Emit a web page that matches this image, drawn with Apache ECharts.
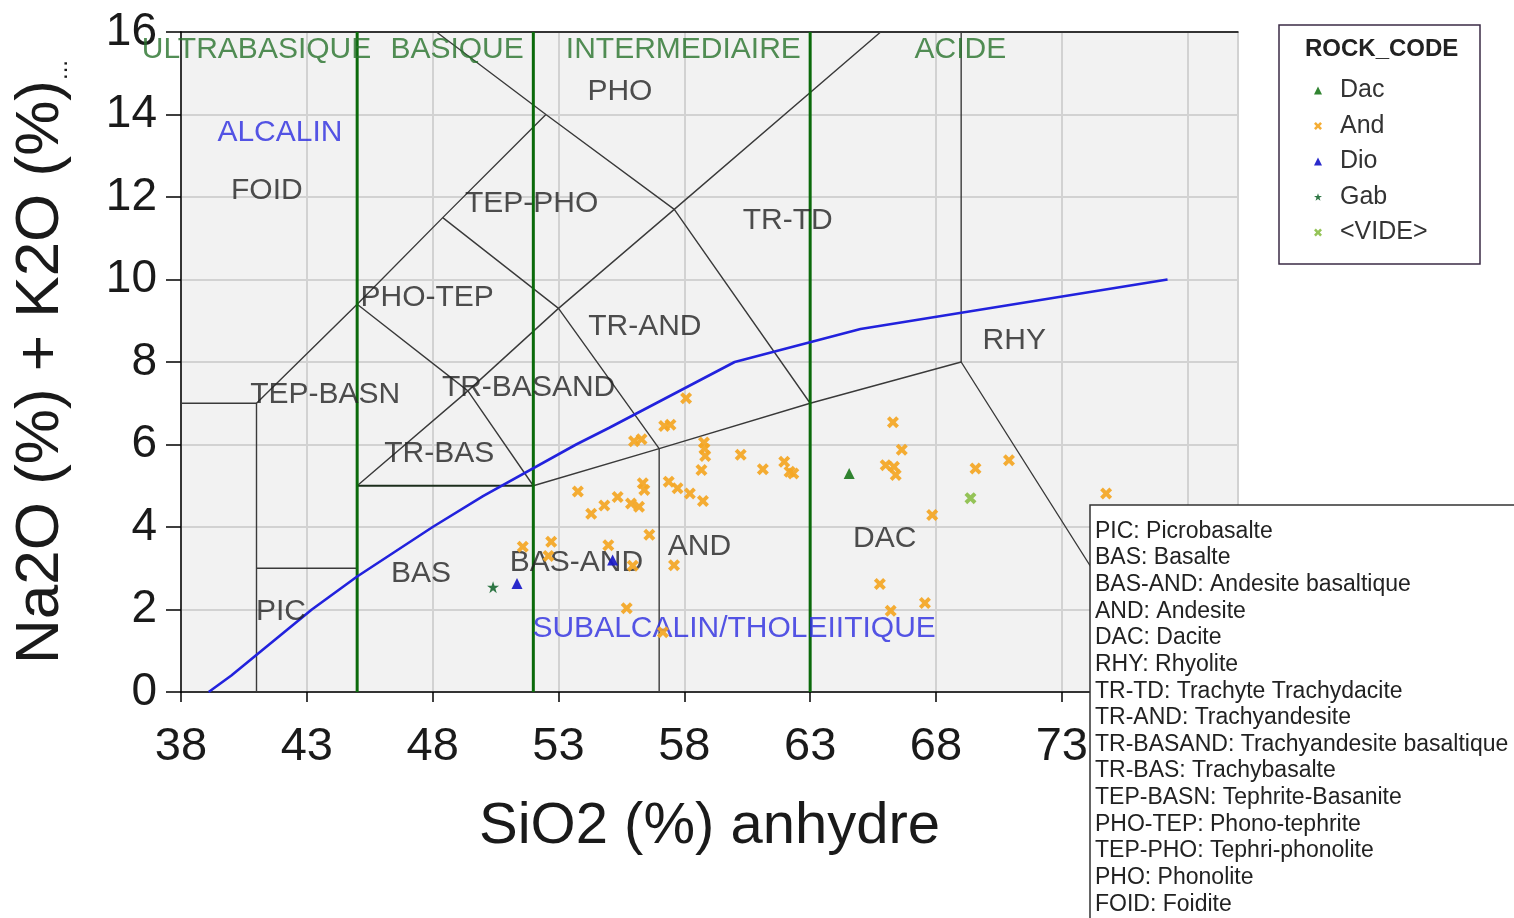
<!DOCTYPE html>
<html><head><meta charset="utf-8">
<script src="https://cdn.jsdelivr.net/npm/echarts@6/dist/echarts.min.js"></script>
<style>html,body{margin:0;padding:0;background:#fff}#c{width:1514px;height:918px}</style>
</head><body><div id="c"></div>
<script>
const FONT = '"Liberation Sans", Arial, sans-serif';

// ---- data ----
const seriesNames = ['Dac', 'And', 'Dio', 'Gab', '<VIDE>'];
const dacData = [[64.55, 5.3]];
const andData = [
  [58.07, 7.12], [57.2, 6.45], [57.45, 6.48], [56.0, 6.08], [56.3, 6.13],
  [58.78, 6.05], [58.8, 5.9], [58.83, 5.72], [58.68, 5.38], [60.24, 5.75],
  [61.12, 5.4], [61.97, 5.58], [62.18, 5.34], [62.33, 5.3], [66.29, 6.54],
  [66.64, 5.87], [66.0, 5.5], [66.33, 5.46], [66.4, 5.26], [69.57, 5.42],
  [70.9, 5.62], [74.76, 4.81], [67.85, 4.29], [65.77, 2.62], [67.56, 2.16],
  [66.2, 1.97], [53.77, 4.86], [54.3, 4.32], [54.82, 4.52], [55.35, 4.73],
  [55.88, 4.57], [56.2, 4.49], [56.35, 5.06], [56.41, 4.9], [57.38, 5.1],
  [57.73, 4.94], [58.22, 4.81], [58.74, 4.63], [56.61, 3.81], [54.98, 3.56],
  [55.95, 3.06], [57.59, 3.07], [55.71, 2.03], [57.15, 1.45], [52.71, 3.64],
  [51.58, 3.52], [52.6, 3.3]
];
const dioData = [[51.35, 2.63], [55.15, 3.2]];
const gabData = [[50.4, 2.54]];
const videData = [[69.37, 4.7]];

// TAS diagram boundaries (SiO2, Na2O+K2O)
const boundaryLines = [
  [[38, 7], [41, 7], [41, 0]],
  [[41, 3], [45, 3]],
  [[41, 7], [45, 9.4], [48.4, 11.5], [52.5, 14]],
  [[48.15, 16], [52.5, 14], [57.6, 11.7], [63, 7]],
  [[45, 9.4], [49.4, 7.3], [52, 5]],
  [[48.4, 11.5], [53, 9.3], [57, 5.9]],
  [[45, 5], [49.4, 7.3], [53, 9.3], [57.6, 11.7], [65.8, 16]],
  [[52, 5], [57, 5.9], [63, 7], [69, 8], [77.3, 0]],
  [[57, 0], [57, 5.9]],
  [[69, 8], [69, 16]]
];
const basaltTop = [[45, 5], [52, 5]];
const silicaLimits = [45, 52, 63];
const alkalineLine = [[39.1, 0], [40, 0.4], [43.2, 2], [45, 2.8], [48, 4], [50, 4.75],
  [53.7, 6], [55, 6.4], [60, 8], [65, 8.8], [77.2, 10]];

const groupLabels = [['ULTRABASIQUE', 41.0, 15.56], ['BASIQUE', 48.97, 15.56],
  ['INTERMEDIAIRE', 57.96, 15.56], ['ACIDE', 68.97, 15.56]];
const regionLabels = [
  ['PHO', 55.44, 14.54], ['FOID', 41.41, 12.14], ['TEP-PHO', 51.93, 11.83],
  ['TR-TD', 62.11, 11.42], ['PHO-TEP', 47.78, 9.55], ['TR-AND', 56.43, 8.85],
  ['RHY', 71.11, 8.51], ['TEP-BASN', 43.73, 7.2], ['TR-BASAND', 51.81, 7.37],
  ['TR-BAS', 48.26, 5.77], ['AND', 58.6, 3.51], ['DAC', 65.96, 3.71],
  ['BAS-AND', 53.71, 3.13], ['BAS', 47.54, 2.86], ['PIC', 41.97, 1.94]
];
const domainLabels = [['ALCALIN', 41.93, 13.57], ['SUBALCALIN/THOLEIITIQUE', 59.98, 1.53]];

const abbreviations = [
  'PIC: Picrobasalte', 'BAS: Basalte', 'BAS-AND: Andesite basaltique', 'AND: Andesite',
  'DAC: Dacite', 'RHY: Rhyolite', 'TR-TD: Trachyte Trachydacite', 'TR-AND: Trachyandesite',
  'TR-BASAND: Trachyandesite basaltique', 'TR-BAS: Trachybasalte',
  'TEP-BASN: Tephrite-Basanite', 'PHO-TEP: Phono-tephrite', 'TEP-PHO: Tephri-phonolite',
  'PHO: Phonolite', 'FOID: Foidite'
];

// ---- styling ----
const X_PATH = 'path://M0,2.3 L2.3,0 L5,2.7 L7.7,0 L10,2.3 L7.3,5 L10,7.7 L7.7,10 L5,7.3 L2.3,10 L0,7.7 L2.7,5 Z';
const STAR_PATH = 'path://M5,0 L6.2,3.6 L10,3.6 L6.9,5.8 L8.1,9.5 L5,7.2 L1.9,9.5 L3.1,5.8 L0,3.6 L3.8,3.6 Z';

const series = [];
boundaryLines.forEach(pts => series.push({
  type: 'line', data: pts, showSymbol: false, silent: true, z: 2,
  lineStyle: { color: '#3a3a3a', width: 1.4 }, animation: false
}));
series.push({ type: 'line', data: basaltTop, showSymbol: false, silent: true, z: 2,
  lineStyle: { color: '#1c2e1c', width: 2 }, animation: false });
silicaLimits.forEach(x => series.push({
  type: 'line', data: [[x, 0], [x, 16]], showSymbol: false, silent: true, z: 3,
  lineStyle: { color: '#0b6a0b', width: 3 }, animation: false
}));
series.push({ type: 'line', data: alkalineLine, showSymbol: false, silent: true, z: 3,
  lineStyle: { color: '#2222dd', width: 2.6 }, animation: false });

function labelSeries(arr, color) {
  return {
    type: 'scatter', symbolSize: 0, silent: true, z: 4, animation: false,
    data: arr.map(a => ({ value: [a[1], a[2]], name: a[0] })),
    label: { show: true, position: 'inside', formatter: p => p.name,
      fontFamily: FONT, fontSize: 30, color: color }
  };
}
series.push(labelSeries(regionLabels, '#222222'));
series.push(labelSeries(groupLabels, '#27722a'));
series.push(labelSeries(domainLabels, '#2a2ae0'));

const pointDefs = [
  { name: seriesNames[0], data: dacData, symbol: 'triangle', size: 11, color: '#1f7a1f' },
  { name: seriesNames[1], data: andData, symbol: X_PATH, size: 12, color: '#f4a623' },
  { name: seriesNames[2], data: dioData, symbol: 'triangle', size: 11, color: '#1818c8' },
  { name: seriesNames[3], data: gabData, symbol: STAR_PATH, size: 12, color: '#1d6b35' },
  { name: seriesNames[4], data: videData, symbol: X_PATH, size: 12, color: '#8cbf4a' }
];
pointDefs.forEach(d => series.push({
  type: 'scatter', name: d.name, data: d.data, symbol: d.symbol, symbolSize: d.size,
  itemStyle: { color: d.color, opacity: 0.92 }, z: 6, animation: false
}));

const chart = echarts.init(document.getElementById('c'), null, { renderer: 'canvas' });
chart.setOption({
  backgroundColor: '#ffffff',
  animation: false,
  textStyle: { fontFamily: FONT },
  grid: { left: 181, top: 32, right: 276, bottom: 226, show: true, containLabel: false,
    outerBoundsMode: 'none', backgroundColor: '#f2f2f2', borderWidth: 0 },
  xAxis: [{
    type: 'value', min: 38, max: 80, interval: 5, position: 'bottom',
    name: 'SiO2 (%) anhydre', nameLocation: 'middle', nameGap: 106,
    nameTextStyle: { fontFamily: FONT, fontSize: 58, color: '#1a1a1a' },
    axisLine: { lineStyle: { color: '#000', width: 1.5 } },
    axisTick: { show: true, length: 10, lineStyle: { color: '#000', width: 1.5 } },
    axisLabel: { fontFamily: FONT, fontSize: 47, color: '#1a1a1a', margin: 32,
      showMaxLabel: false },
    splitLine: { show: true, lineStyle: { color: '#d2d2d2', width: 2 } }
  }, {
    type: 'value', min: 38, max: 80, position: 'top',
    axisLine: { show: true, onZero: false, lineStyle: { color: '#000', width: 1.5 } },
    axisTick: { show: false }, axisLabel: { show: false }, splitLine: { show: false }
  }],
  yAxis: {
    type: 'value', min: 0, max: 16, interval: 2,
    name: 'Na2O (%) + K2O (%){d|...}', nameLocation: 'middle', nameGap: 109,
    nameTextStyle: { fontFamily: FONT, fontSize: 62, color: '#1a1a1a',
      rich: { d: { fontFamily: FONT, fontSize: 24, color: '#1a1a1a', verticalAlign: 'bottom' } } },
    axisLine: { show: true, lineStyle: { color: '#000', width: 1.5 } },
    axisTick: { show: true, length: 15, lineStyle: { color: '#000', width: 1.5 } },
    axisLabel: { fontFamily: FONT, fontSize: 46, color: '#1a1a1a', margin: 24 },
    splitLine: { show: true, lineStyle: { color: '#d2d2d2', width: 2 } }
  },
  legend: {
    data: seriesNames, orient: 'vertical', left: 1309, top: 73, z: 10,
    itemWidth: 8, itemHeight: 8, itemGap: 10.5, selectedMode: false,
    textStyle: { fontFamily: FONT, fontSize: 25, color: '#333', padding: [0, 0, 0, 13] }
  },
  graphic: [
    { type: 'rect', z: 5, shape: { x: 1279, y: 25, width: 201, height: 239 },
      style: { fill: '#fff', stroke: '#3b2b45', lineWidth: 1.5 } },
    { type: 'text', z: 6, style: { x: 1305, y: 49, text: 'ROCK_CODE', fill: '#222',
      font: 'bold 24px ' + FONT, textVerticalAlign: 'middle' } },
    { type: 'group', z: 100, children: [
      { type: 'rect', z: 100, shape: { x: 1090, y: 505, width: 440, height: 430 },
        style: { fill: '#fff', stroke: '#333', lineWidth: 1.5 } },
      { type: 'text', z: 101, style: { x: 1095, y: 518, text: abbreviations.join('\n'),
        fill: '#222', font: '23px ' + FONT, lineHeight: 26.64 } }
    ] }
  ],
  series: series
});
</script></body></html>
